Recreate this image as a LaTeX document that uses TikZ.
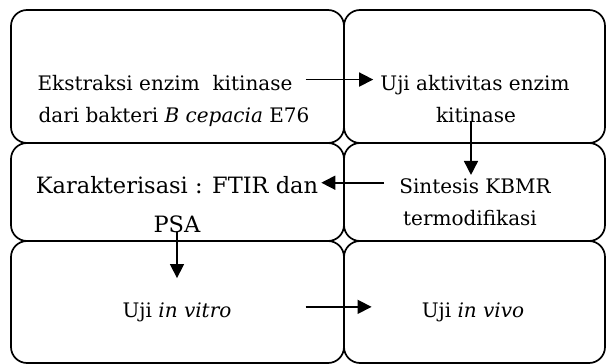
\documentclass[tikz,border=0pt]{standalone}
\usepackage{fontspec}
\setmainfont{DejaVu Serif}
\usetikzlibrary{arrows.meta}
\tikzset{
  stagebox/.style={draw, line width=1.7pt, rounded corners=16pt, inner sep=0pt},
  txt/.style={anchor=base, inner sep=3pt, font=\fontsize{20}{24}\selectfont},
  bigtxt/.style={txt, font=\fontsize{22.5}{27}\selectfont},
  arr/.style={-{Triangle[length=14pt,width=14pt]}, line width=1.6pt},
}
\begin{document}
\begin{tikzpicture}[x=1pt,y=-1pt]
      \useasboundingbox (0,0) rectangle (606,364);
      % boxes
      \node[stagebox, minimum width=333pt, minimum height=133pt] (b1) at (177.5,76.5) {};
      \node[stagebox, minimum width=261pt, minimum height=133pt] (b2) at (474.5,76.5) {};
      \node[stagebox, minimum width=333pt, minimum height=98pt] (b3) at (177.5,192) {};
      \node[stagebox, minimum width=261pt, minimum height=98pt] (b4) at (474.5,192) {};
      \node[stagebox, minimum width=333pt, minimum height=122pt] (b5) at (177.5,302) {};
      \node[stagebox, minimum width=261pt, minimum height=122pt] (b6) at (474.5,302) {};
      % texts
      \node[txt] (ek1) at (165,90) {Ekstraksi enzim\ \ kitinase};
      \node[txt] (ek2) at (174,122) {dari bakteri \textit{B cepacia} E76};
      \node[txt] (uji1) at (475,90) {Uji aktivitas enzim};
      \node[txt] (kit) at (476,122) {kitinase};
      \node[bigtxt] (kar1) at (177,193) {Karakterisasi : FTIR dan};
      \node[bigtxt] (kar2) at (177,232) {PSA};
      \node[txt] (sin1) at (475,193) {Sintesis KBMR};
      \node[txt] (sin2) at (470,225) {termodifikasi};
      \node[txt] (vitro) at (177,317) {Uji \textit{in vitro}};
      \node[txt] (vivo) at (473,317) {Uji \textit{in vivo}};
      % arrows
      \draw[arr, shorten <=10pt, shorten >=4pt] ([yshift=3pt]ek1.east) -- ([yshift=3pt]ek1.east -| uji1.west);
      \draw[arr] ([xshift=-5pt]kit.base) -- ([xshift=-5pt]kit.base |- sin1.north);
      \draw[arr, shorten <=12pt] ([yshift=3pt]sin1.west) -- ([yshift=3pt]sin1.west -| kar1.east);
      \draw[arr, shorten >=21pt] (kar2.base) -- (kar2.base |- vitro.north);
      \draw[arr, shorten <=71pt, shorten >=47pt] ([yshift=5pt]vitro.east) -- ([yshift=5pt]vitro.east -| vivo.west);
\end{tikzpicture}
\end{document}
